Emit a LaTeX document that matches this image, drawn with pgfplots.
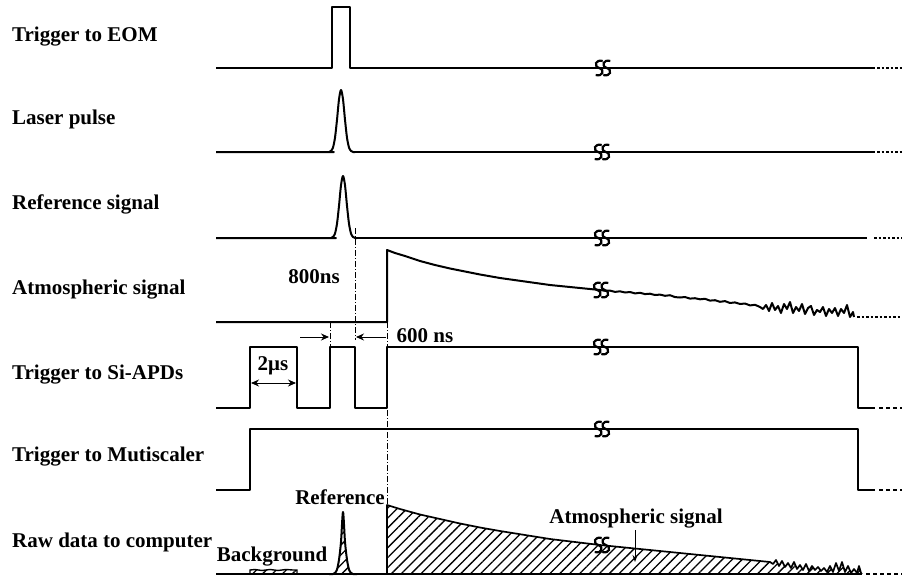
\documentclass[border=0pt]{standalone}
\usepackage{pgfplots}
\pgfplotsset{compat=1.18}
\usepackage{fontspec}
\setmainfont{Liberation Serif}
\usetikzlibrary{arrows.meta,patterns.meta}

\tikzset{
  trace/.style={black, line width=2pt, line join=round},
  tail/.style={black, line width=1.8pt, dash pattern=on 2.5pt off 2pt},
  tailb/.style={black, line width=1.8pt, dash pattern=on 4pt off 3pt},
  hatch/.style={draw=none, pattern={Lines[angle=45, distance=7pt, line width=1.3pt]}},
  guide/.style={black, line width=0.7pt, dash pattern=on 6pt off 2pt on 1pt off 2pt},
  arr/.style={line width=0.9pt},
}

% break mark drawn across a trace at (x,y)
\newcommand{\brk}[2]{%
  \draw[line width=2.2pt, shift={(axis cs:#1,#2)}, xshift=-3.8pt]
    (3.5pt,7pt) .. controls (-3.5pt,9pt) and (-6pt,2pt) .. (0,0)
    .. controls (6pt,-2pt) and (3.5pt,-9pt) .. (-3.5pt,-7pt);
  \draw[line width=2.2pt, shift={(axis cs:#1,#2)}, xshift=3.8pt]
    (3.5pt,7pt) .. controls (-3.5pt,9pt) and (-6pt,2pt) .. (0,0)
    .. controls (6pt,-2pt) and (3.5pt,-9pt) .. (-3.5pt,-7pt);
}

\begin{document}
\begin{tikzpicture}[font=\bfseries\fontsize{21}{24}\selectfont]
\begin{axis}[
  name=ax,
  width=902pt, height=579pt, scale only axis,
  xmin=0, xmax=902, ymin=0, ymax=579, y dir=reverse,
  hide axis, clip=false,
  every axis plot/.append style={no markers},
]

% ---- Trigger to EOM
\addplot[trace] coordinates {(216,68) (332,68) (332,7) (350,7) (350,68) (875,68)};
\addplot[tail] coordinates {(877,68) (902,68)};

% ---- Laser pulse
\addplot[trace, smooth] coordinates {(216,152) (327,152) (329,152) (331,150.9) (333,147.5) (335,137.7) (337,119.8) (339,99.3) (341,90) (343,99.3) (345,119.8) (347,137.7) (349,147.5) (351,150.9) (353,152) (355,152)};
\addplot[trace] coordinates {(355,152) (875,152)};
\addplot[tail] coordinates {(877,152) (902,152)};

% ---- Reference signal
\addplot[trace, smooth] coordinates {(216,238) (329,238) (331,238) (333,236.9) (335,233.5) (337,223.7) (339,205.8) (341,185.3) (343,176) (345,185.3) (347,205.8) (349,223.7) (351,233.5) (353,236.9) (355,238) (357,238)};
\addplot[trace] coordinates {(357,238) (867,238)};
\addplot[tail] coordinates {(874,238) (902,238)};

% ---- Atmospheric signal
\addplot[trace] coordinates {(216,322) (387,322) (387,250) (395,253) (405,256) (420,261) (435,265) (450,268.5) (465,271.5) (480,274.5) (500,278) (525,281.5) (550,285) (575,287.5) (600,290)
 (605,290.8) (610,290.6) (615,291.9) (620,291.3) (625,292.5) (630,292.0) (635,293.4) (640,292.8) (645,294.1) (650,293.7) (655,295.0) (660,294.6) (665,295.8) (670,295.2) (675,297.1) (680,297.5) (685,297.0) (690,298.6) (695,298.2) (700,299.3) (705,298.8) (710,300.6) (715,300.2) (720,301.8) (725,301.1) (730,303.0) (735,302.4) (740,304.0) (745,303.5) (750,305.4) (755,304.8) (760,307.0)
 (763,309) (766,305) (769,311) (772,303) (775,310) (778,306) (781,313) (784,304) (787,309) (790,302) (793,313) (796,307) (799,311) (802,304) (805,314) (808,308) (811,306) (814,315) (817,310) (820,312) (823,307) (826,316) (829,309) (832,313) (835,308) (838,316) (841,309) (844,313) (847,305) (850,317) (853,312) (854,317)};
\addplot[tail] coordinates {(857,317) (902,317)};

% ---- Trigger to Si-APDs
\addplot[trace] coordinates {(216,408) (250,408) (250,347) (297,347) (297,408) (330,408) (330,347) (355,347) (355,408) (387,408) (387,347) (858,347) (858,408) (875,408)};
\addplot[tailb] coordinates {(879,408) (902,408)};

% ---- Trigger to Mutiscaler
\addplot[trace] coordinates {(216,490) (250,490) (250,429) (858,429) (858,490) (875,490)};
\addplot[tailb] coordinates {(879,490) (902,490)};

% ---- Raw data to computer
% background
\addplot[hatch] coordinates {(250,574) (250,570) (255,569.5) (262,570.5) (270,569.5) (278,570.5) (286,569.5) (293,570) (297,570) (297,574)};
\addplot[black, line width=1.4pt] coordinates {(250,574) (250,570) (255,569.5) (262,570.5) (270,569.5) (278,570.5) (286,569.5) (293,570) (297,570) (297,574)};
% reference peak
\addplot[hatch, smooth] coordinates {(333,574) (335,572.9) (337,569.5) (339,559.7) (341,541.8) (343,512) (345,541.8) (347,559.7) (349,569.5) (351,572.9) (353,574)};
\addplot[trace, smooth] coordinates {(329,574) (331,574) (333,574) (335,572.9) (337,569.5) (339,559.7) (341,541.8) (343,512) (345,541.8) (347,559.7) (349,569.5) (351,572.9) (353,574) (355,574) (357,574)};
% atmospheric return
\addplot[hatch] coordinates {(387,574) (387,505) (400,509) (420,514.5) (440,519) (460,523.5) (480,527.5) (500,531) (525,535) (550,539) (575,542) (600,545) (625,547.5) (650,550) (675,552.5) (700,555) (725,557.5) (750,560) (770,562)
 (773,564) (776,560) (779,566) (782,561) (785,567) (788,563) (791,568) (794,562) (797,569) (800,565) (803,570) (806,564) (809,571) (812,566) (815,570) (818,567) (821,571) (824,568) (827,572) (830,566) (833,572) (836,563) (839,571) (842,562) (845,572) (848,566) (851,573) (854,569) (857,573) (859,566) (861,573) (862,574)};
\addplot[trace, line width=1.7pt] coordinates {(387,574) (387,505) (400,509) (420,514.5) (440,519) (460,523.5) (480,527.5) (500,531) (525,535) (550,539) (575,542) (600,545) (625,547.5) (650,550) (675,552.5) (700,555) (725,557.5) (750,560) (770,562)
 (773,564) (776,560) (779,566) (782,561) (785,567) (788,563) (791,568) (794,562) (797,569) (800,565) (803,570) (806,564) (809,571) (812,566) (815,570) (818,567) (821,571) (824,568) (827,572) (830,566) (833,572) (836,563) (839,571) (842,562) (845,572) (848,566) (851,573) (854,569) (857,573) (859,566) (861,573) (862,574)};
\addplot[trace] coordinates {(216,574) (862,574)};
\addplot[tailb] coordinates {(866,574) (902,574)};

% ---- timing guides
\draw[guide] (axis cs:355,228) -- (axis cs:355,340);
\draw[guide] (axis cs:330,322) -- (axis cs:330,347);
\draw[guide] (axis cs:387,322) -- (axis cs:387,505);
\draw[arr, -{Stealth[length=8pt,width=7pt]}] (axis cs:300,337) -- (axis cs:329,337);
\draw[arr, -{Stealth[length=8pt,width=7pt]}] (axis cs:386,337) -- (axis cs:356,337);
\draw[arr, {Stealth[length=8pt,width=7pt]}-{Stealth[length=8pt,width=7pt]}] (axis cs:251,383) -- (axis cs:296,383);
\draw[arr, -{Stealth[length=7pt,width=5pt]}] (axis cs:635,530) -- (axis cs:635,562);

% ---- break marks
\brk{603}{68}
\brk{602}{152}
\brk{602}{238}
\brk{601}{290}
\brk{601}{347}
\brk{602}{429}
\brk{602}{545}

% ---- row labels
\node[anchor=base west, inner sep=0pt] at (axis cs:12,41) {Trigger to EOM};
\node[anchor=base west, inner sep=0pt] at (axis cs:12,124.5) {Laser pulse};
\node[anchor=base west, inner sep=0pt] at (axis cs:12,209.5) {Reference signal};
\node[anchor=base west, inner sep=0pt] at (axis cs:12,294.5) {Atmospheric signal};
\node[anchor=base west, inner sep=0pt] at (axis cs:12,379.5) {Trigger to Si-APDs};
\node[anchor=base west, inner sep=0pt] at (axis cs:12,461.5) {Trigger to Mutiscaler};
\node[anchor=base west, inner sep=0pt] at (axis cs:12,547.5) {Raw data to computer};

% ---- annotations
\node[anchor=base, inner sep=0pt] at (axis cs:314,283) {800ns};
\node[anchor=base, inner sep=0pt] at (axis cs:425,342) {600 ns};
\node[anchor=base, inner sep=0pt] at (axis cs:273,370) {2μs};
\node[anchor=base, inner sep=0pt] at (axis cs:340,504) {Reference};
\node[anchor=base, inner sep=0pt] at (axis cs:272,561) {Background};
\node[anchor=base, inner sep=0pt] at (axis cs:636,523) {Atmospheric signal};
\end{axis}
\pgfresetboundingbox
\path[use as bounding box] (ax.south west) rectangle (ax.north east);
\end{tikzpicture}
\end{document}
